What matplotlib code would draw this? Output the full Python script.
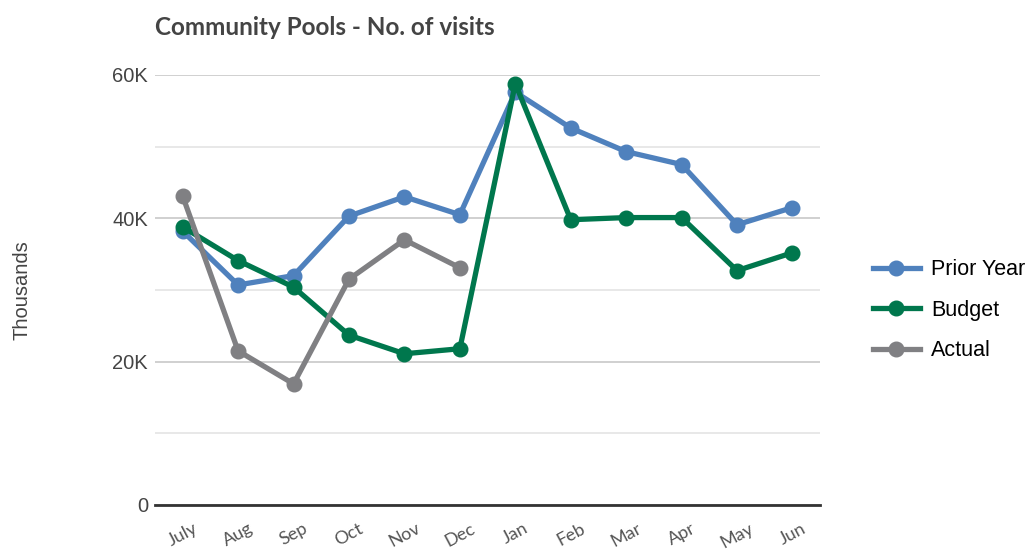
import matplotlib
matplotlib.use("Agg")
import matplotlib.pyplot as plt
from matplotlib.ticker import MultipleLocator, FuncFormatter

months = ["July", "Aug", "Sep", "Oct", "Nov", "Dec", "Jan", "Feb", "Mar", "Apr", "May", "Jun"]
prior_year = [38200, 30700, 32000, 40300, 43000, 40500, 57600, 52600, 49300, 47500, 39100, 41500]
budget = [38800, 34100, 30400, 23700, 21100, 21800, 58800, 39800, 40100, 40100, 32700, 35200]
actual = [43100, 21500, 16900, 31500, 37000, 33100]

fig = plt.figure(figsize=(10.33, 5.51), dpi=100)
ax = fig.add_axes([0.150, 0.0835, 0.644, 0.7805])

x = list(range(len(months)))
series = [
    ("Prior Year", prior_year, "#4f81bd"),
    ("Budget", budget, "#00774d"),
    ("Actual", actual, "#808083"),
]
handles = []
for name, vals, col in series:
    h, = ax.plot(x[:len(vals)], vals, color=col, lw=3.8, marker="o", ms=10.5,
                 label=name, clip_on=False, zorder=3)
    handles.append(h)

ax.set_xlim(-0.5, 11.5)
ax.set_ylim(0, 60000)
ax.yaxis.set_major_locator(MultipleLocator(20000))
ax.yaxis.set_minor_locator(MultipleLocator(10000))
ax.yaxis.set_major_formatter(FuncFormatter(lambda v, p: "0" if v == 0 else f"{int(v/1000)}K"))
ax.grid(axis="y", which="major", color="#c8c8c8", lw=1.2)
ax.grid(axis="y", which="minor", color="#e4e4e4", lw=1.2)
ax.set_axisbelow(True)

for s in ["top", "right", "left"]:
    ax.spines[s].set_visible(False)
ax.spines["bottom"].set_color("#333333")
ax.spines["bottom"].set_linewidth(2)

ax.tick_params(axis="y", which="both", length=0, labelsize=14.5, labelcolor="#444444", pad=5)
ax.tick_params(axis="x", length=0, pad=11)
ax.set_xticks(x)
ax.set_xticklabels(months, rotation=28, fontsize=13, color="#555555", family="Lato",
                   ha="center", va="top")
for lab in ax.get_yticklabels():
    lab.set_family("Liberation Sans")

ax.set_ylabel("Thousands", fontsize=14.5, color="#444444", family="Liberation Sans")
ax.yaxis.set_label_coords(-0.185, 0.5)

fig.text(0.150, 0.95, "Community Pools - No. of visits", fontsize=17.5, fontweight="bold",
         color="#444444", family="Lato", va="center", ha="left")

fig.legend(handles=handles, loc="center left", bbox_to_anchor=(0.826, 0.437), frameon=False,
           prop={"family": "Liberation Sans", "size": 15.5}, handlelength=2.2,
           labelspacing=0.9, handletextpad=0.5)

fig.savefig("out.png", dpi=100)
